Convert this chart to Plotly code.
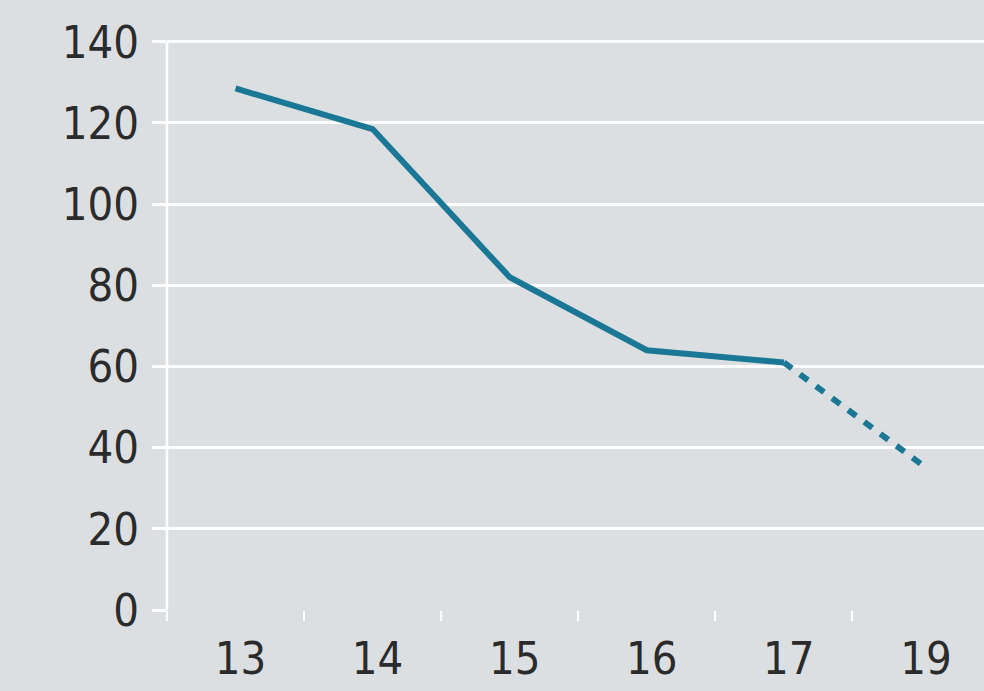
import plotly.graph_objects as go

years = ["13", "14", "15", "16", "17", "19"]
values = [128.5, 118.5, 82, 64, 61, 36]
actual_n = 5  # first five are actual, remainder projected
y_ticks = [0, 20, 40, 60, 80, 100, 120, 140]

BG = "#dcdfe1"
LINE = "#1a7896"
TXT = "#2b2b2b"
FONT = "DejaVu Sans Condensed"

fig = go.Figure()
fig.add_trace(go.Scatter(x=years[:actual_n], y=values[:actual_n], mode="lines",
                         line=dict(color=LINE, width=6), showlegend=False,
                         hoverinfo="skip"))
fig.add_trace(go.Scatter(x=years[actual_n - 1:], y=values[actual_n - 1:], mode="lines",
                         line=dict(color=LINE, width=6, dash="10px,10px"), showlegend=False,
                         hoverinfo="skip"))

fig.update_layout(
    width=984, height=691,
    margin=dict(l=167, r=0, t=0, b=81, autoexpand=False),
    paper_bgcolor=BG, plot_bgcolor=BG,
    font=dict(family=FONT, size=45, color=TXT),
    xaxis=dict(type="category", categoryorder="array", categoryarray=years,
               range=[-0.5, 5.46], tickson="boundaries", ticks="outside",
               ticklen=10, tickwidth=2, tickcolor="white", showgrid=False,
               zeroline=False, showline=False, ticklabelstandoff=18,
               ticklabelshift=5, automargin=False, fixedrange=True),
    yaxis=dict(range=[0, 150.3], tickvals=y_ticks, ticks="outside", ticklen=14,
               tickwidth=2.5, tickcolor="white", gridcolor="white", gridwidth=2.5,
               zeroline=False, showline=False, ticklabelstandoff=4,
               automargin=False, fixedrange=True),
)
fig.add_shape(type="line", xref="paper", yref="y", x0=0, x1=0, y0=-2.5, y1=140,
              line=dict(color="white", width=2.5), layer="below")

fig.write_html("out.html")
